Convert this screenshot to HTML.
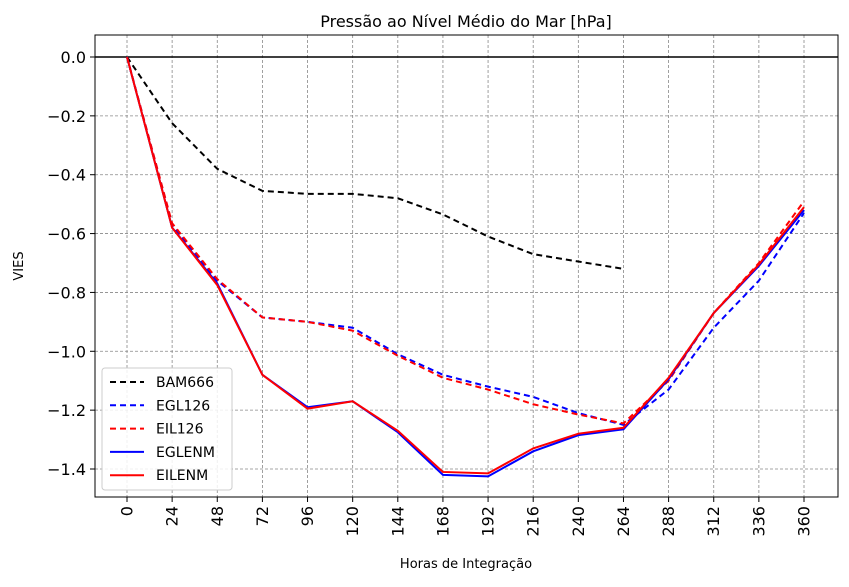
<!DOCTYPE html>
<html><head><meta charset="utf-8"><style>
body{margin:0;background:#fff;}
svg text{font-family:"DejaVu Sans","Liberation Sans",sans-serif;}
</style></head><body>
<svg id="chart" width="849" height="582" xmlns="http://www.w3.org/2000/svg">
<rect width="849" height="582" fill="#fff"/>
<g id="grid"></g>
<g id="series"></g>
<g id="axes"></g>
</svg>
<script>
const hours=[0,24,48,72,96,120,144,168,192,216,240,264,288,312,336,360];
const yTicks=[0.0,-0.2,-0.4,-0.6,-0.8,-1.0,-1.2,-1.4];
const yTickLabels=["0.0","\u22120.2","\u22120.4","\u22120.6","\u22120.8","\u22121.0","\u22121.2","\u22121.4"];
const bam666=[0,-0.225,-0.38,-0.455,-0.465,-0.465,-0.48,-0.535,-0.61,-0.67,-0.695,-0.72];
const egl126=[0,-0.57,-0.76,-0.885,-0.90,-0.92,-1.01,-1.08,-1.12,-1.155,-1.21,-1.25,-1.13,-0.92,-0.76,-0.53];
const eil126=[0,-0.565,-0.755,-0.885,-0.90,-0.93,-1.015,-1.09,-1.13,-1.18,-1.215,-1.245,-1.10,-0.87,-0.70,-0.49];
const eglenm=[0,-0.58,-0.77,-1.08,-1.19,-1.17,-1.275,-1.42,-1.425,-1.34,-1.285,-1.265,-1.095,-0.87,-0.71,-0.52];
const eilenm=[0,-0.58,-0.775,-1.08,-1.195,-1.17,-1.27,-1.41,-1.415,-1.33,-1.28,-1.26,-1.09,-0.87,-0.705,-0.51];

const L=95,R=838,T=35,B=497;
const xs=h=>127+(h/360)*(804-127);
const ys=v=>57+(-v)*(469-57)/1.4;
const NS="http://www.w3.org/2000/svg";
function mk(tag,attrs,parent){const e=document.createElementNS(NS,tag);for(const k in attrs)e.setAttribute(k,attrs[k]);parent.appendChild(e);return e;}
const grid=document.getElementById('grid'),ser=document.getElementById('series'),ax=document.getElementById('axes');

hours.forEach(h=>{
  const l=mk('line',{x1:xs(h),x2:xs(h),y1:T,y2:B,stroke:'#888','stroke-width':0.8,'stroke-dasharray':'3,2'},grid);
  
  
  const t=mk('line',{x1:xs(h),x2:xs(h),y1:B,y2:B+5,stroke:'#000','stroke-width':1},ax);
  
  
  const tx=mk('text',{x:0,y:0,'font-size':16,'text-anchor':'end','dominant-baseline':'central',transform:`translate(${xs(h)},${B+9}) rotate(-90)`},ax);
  tx.textContent=String(h);
  
  
});
yTicks.forEach((v,i)=>{
  const l=mk('line',{x1:L,x2:R,y1:ys(v),y2:ys(v),stroke:'#888','stroke-width':0.8,'stroke-dasharray':'3,2'},grid);
  
  
  const t=mk('line',{x1:L-5,x2:L,y1:ys(v),y2:ys(v),stroke:'#000','stroke-width':1},ax);
  
  
  const tx=mk('text',{x:L-9,y:ys(v)+6,'font-size':16,'text-anchor':'end'},ax);
  tx.textContent=yTickLabels[i];
  
  
});
const zl=mk('line',{x1:L,x2:R,y1:ys(0),y2:ys(0),stroke:'#000','stroke-width':1.5},ser);



const seriesDefs=[
  ['BAM666',bam666,'#000','6,4'],
  ['EGL126',egl126,'#0000ff','6,4'],
  ['EIL126',eil126,'#ff0000','6,4'],
  ['EGLENM',eglenm,'#0000ff',''],
  ['EILENM',eilenm,'#ff0000','']
];
seriesDefs.forEach(([name,vals,col,dash])=>{
  const pts=vals.map((v,i)=>xs(hours[i])+','+ys(v)).join(' ');
  const p=mk('polyline',{points:pts,fill:'none',stroke:col,'stroke-width':2,'stroke-dasharray':dash||'none'},ser);
  
  
});

const frame=mk('rect',{x:L,y:T,width:R-L,height:B-T,fill:'none',stroke:'#000','stroke-width':1},ax);



const lg=mk('g',{},ax);


mk('rect',{x:102,y:368,width:130,height:122,rx:3,fill:'#fff','fill-opacity':0.85,stroke:'#ccc'},lg);
seriesDefs.forEach(([name,vals,col,dash],i)=>{
  const y=382+i*23.3;
  const g=mk('g',{},lg);
  
  
  mk('line',{x1:110,x2:144,y1:y,y2:y,stroke:col,'stroke-width':2,'stroke-dasharray':dash||'none'},g);
  const t=mk('text',{x:156,y:y+5,'font-size':14},g);
  t.textContent=name;
});

const title=mk('text',{x:466,y:27,'font-size':16,'text-anchor':'middle'},ax);
title.textContent='Pressão ao Nível Médio do Mar [hPa]';


const xl=mk('text',{x:466,y:568,'font-size':13,'text-anchor':'middle'},ax);
xl.textContent='Horas de Integração';


const yl=mk('text',{x:0,y:0,'font-size':13,'text-anchor':'middle',transform:'translate(23,266) rotate(-90)'},ax);
yl.textContent='VIES';


</script>
</body></html>
